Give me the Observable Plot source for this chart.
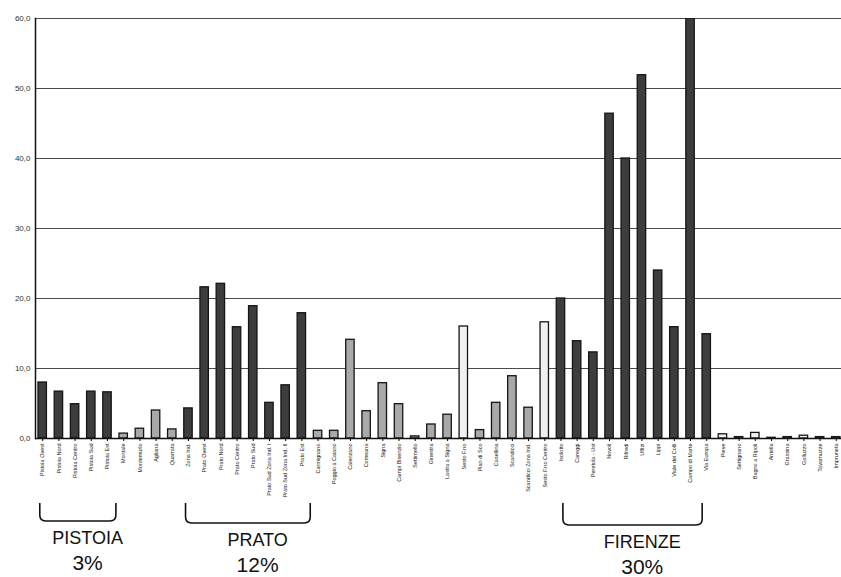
<!DOCTYPE html>
<html><head><meta charset="utf-8">
<script src="https://cdn.jsdelivr.net/npm/d3@7"></script>
<script src="https://cdn.jsdelivr.net/npm/@observablehq/plot@0.6"></script>
<style>
html,body{margin:0;padding:0;background:#fff;}
#wrap{position:relative;width:841px;height:577px;overflow:hidden;}
#wrap svg{position:absolute;left:0;top:0;}
</style></head><body><div id="wrap"></div>
<script>
const stations = ["Pistoia Ovest","Pistoia Nord","Pistoia Centro","Pistoia Sud","Pistoia Est","Montale","Montemurlo","Agliana","Quarrata","Zona Ind.",
"Prato Ovest","Prato Nord","Prato Centro","Prato Sud","Prato Sud Zona Ind. I","Prato Sud Zona Ind. II","Prato Est","Carmignano","Poggio a Caiano","Calenzano",
"Comeana","Signa","Campi Bisenzio","Settimello","Ginestra","Lastra a Signa","Sesto F.no","Pian di Sco","Casellina","Scandicci",
"Scandicci Zona Ind.","Sesto F.no Centro","Isolotto","Careggi","Peretola - Ust","Novoli","Rifredi","Uffizi","Lippi","Viale dei Colli",
"Campo di Marte","Via Europa","Pieve","Settignano","Bagno a Ripoli","Antella","Grassina","Galluzzo","Tavarnuzze","Impruneta"];
const values = [8.0,6.7,4.9,6.7,6.6,0.7,1.4,4.0,1.3,4.3,
21.6,22.1,15.9,18.9,5.1,7.6,17.9,1.1,1.1,14.1,
3.9,7.9,4.9,0.3,2.0,3.4,16.0,1.2,5.1,8.9,
4.4,16.6,20.0,13.9,12.3,46.4,40.0,51.9,24.0,15.9,
60.0,14.9,0.6,0.2,0.8,0.1,0.2,0.4,0.2,0.2];
const zones = ["città","città","città","città","città","cintura","cintura","cintura","cintura","città",
"città","città","città","città","città","città","città","cintura","cintura","cintura",
"cintura","cintura","cintura","cintura","cintura","cintura","esterno","cintura","cintura","cintura",
"cintura","esterno","città","città","città","città","città","città","città","città",
"città","città","esterno","esterno","esterno","esterno","esterno","esterno","esterno","esterno"];
const yTicks = [0,10,20,30,40,50,60];
const groupNames = ["PISTOIA","PRATO","FIRENZE"];
const groupShares = ["3%","12%","30%"];
const groupFirst = ["Pistoia Ovest","Zona Ind.","Isolotto"];
const groupLast = ["Pistoia Est","Prato Est","Via Europa"];

const data = stations.map((s,i)=>({station:s, value:values[i], zone:zones[i]}));

const chart = Plot.plot({
  width:841, height:577, marginLeft:35, marginRight:0, marginTop:18, marginBottom:139,
  style:{fontFamily:"Liberation Sans, Arial, sans-serif", background:"transparent"},
  x:{domain:stations, range:[38,840], paddingInner:0.48, paddingOuter:0, align:0.5, round:false},
  y:{domain:[0,60]},
  color:{domain:["città","cintura","esterno"], range:["#3d3d3d","#a9a9a9","#f0f0f0"]},
  marks:[
    Plot.gridY(yTicks,{stroke:"#4a4a4a", strokeOpacity:1}),
    Plot.barY(data,{x:"station", y:"value", fill:"zone", stroke:"#151515", strokeWidth:1.3, clip:true}),
    Plot.ruleY([0],{stroke:"#111", strokeWidth:1.5}),
    Plot.axisY(yTicks,{tickSize:0, tickPadding:5, fontSize:8, fill:"#333", tickFormat:d=>d.toFixed(1).replace(".",","), label:null}),
    Plot.axisX({tickRotate:-90, tickSize:3, tickPadding:2, fontSize:5.5, label:null, fill:"#222"}),
    Plot.frame({anchor:"left", stroke:"#111", strokeWidth:1.5})
  ]
});
const wrap = document.getElementById("wrap");
wrap.appendChild(chart);

const xs = chart.scale("x");
const center = n => xs.apply(n) + xs.bandwidth/2;
const step = center(stations[1]) - center(stations[0]);
const ov = d3.select(wrap).append("svg").attr("width",841).attr("height",577)
  .style("font-family","Liberation Sans, Arial, sans-serif");
const y0 = 503, y1s = [521,523,525], r = 6;
groupNames.forEach((g,i)=>{
  const x1 = center(groupFirst[i]) - step*0.15 + (i===2 ? step*0.3 : 0);
  const x2 = center(groupLast[i]) + step*0.55 - (i===2 ? step*0.8 : 0);
  const y1 = y1s[i];
  ov.append("path")
    .attr("d",`M${x1},${y0} L${x1},${y1-r} Q${x1},${y1} ${x1+r},${y1} L${x2-r},${y1} Q${x2},${y1} ${x2},${y1-r} L${x2},${y0}`)
    .attr("fill","none").attr("stroke","#111").attr("stroke-width",1.6);
  const cx = (x1+x2)/2 + step*0.6;
  ov.append("text").attr("x",cx).attr("y",y1+23).attr("text-anchor","middle")
    .attr("font-size",18).attr("fill","#111").text(g);
  ov.append("text").attr("x",cx).attr("y",y1+49).attr("text-anchor","middle")
    .attr("font-size",21).attr("fill","#111").text(groupShares[i]);
});
</script></body></html>
